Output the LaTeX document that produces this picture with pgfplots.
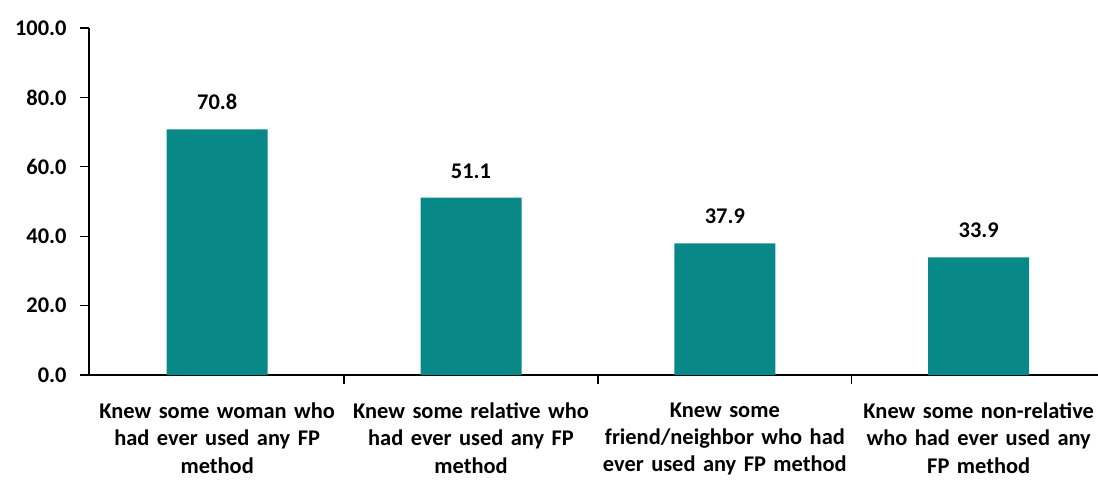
\documentclass[border=0pt]{standalone}
\usepackage{pgfplots}
\pgfplotsset{compat=1.18}
\usepackage{fontspec}
\setmainfont{Carlito}
\definecolor{barteal}{RGB}{8,137,136}
\begin{document}
\begin{tikzpicture}
\begin{axis}[
  at={(0,0)}, anchor=south west,
  scale only axis, width=1009bp, height=347bp,
  xmin=-0.505, xmax=3.47, ymin=0, ymax=100,
  axis x line*=bottom, axis y line*=left,
  axis line style={line width=1.4pt, -},
  every tick/.style={black, line width=1.4pt},
  tick align=outside, major tick length=9bp,
  ytick={0,20,...,100},
  xtick={0.5,1.5,2.5}, xticklabels={},
  extra x ticks={0,1,2,3},
  extra x tick labels={Knew some woman who\\had ever used any FP\\method,
    Knew some relative who\\had ever used any FP\\method,
    Knew some\\friend/neighbor who had\\ever used any FP method,
    Knew some non-relative\\who had ever used any\\FP method},
  extra x tick style={major tick length=0pt},
  xticklabel style={text width=265bp, align=center, yshift=-24bp,
    font=\fontsize{22.5}{27.5}\selectfont\bfseries},
  yticklabel style={font=\fontsize{22.5}{27}\selectfont\bfseries, xshift=-10bp},
  /pgf/number format/assume math mode=true,
  /pgf/number format/fixed, /pgf/number format/fixed zerofill,
  /pgf/number format/precision=1,
  ybar, bar width=101bp, bar shift=0pt,
  nodes near coords,
  nodes near coords style={font=\fontsize{22.5}{27}\selectfont\bfseries, yshift=16bp,
    /pgf/number format/fixed, /pgf/number format/fixed zerofill,
    /pgf/number format/precision=1},
  clip=false,
]
\addplot[fill=barteal, draw=none] coordinates {(0,70.8) (1,51.1) (2,37.9) (3,33.9)};
\end{axis}
\pgfresetboundingbox
\useasboundingbox (-89bp,-107bp) rectangle (1009bp,375bp);
\end{tikzpicture}
\end{document}
